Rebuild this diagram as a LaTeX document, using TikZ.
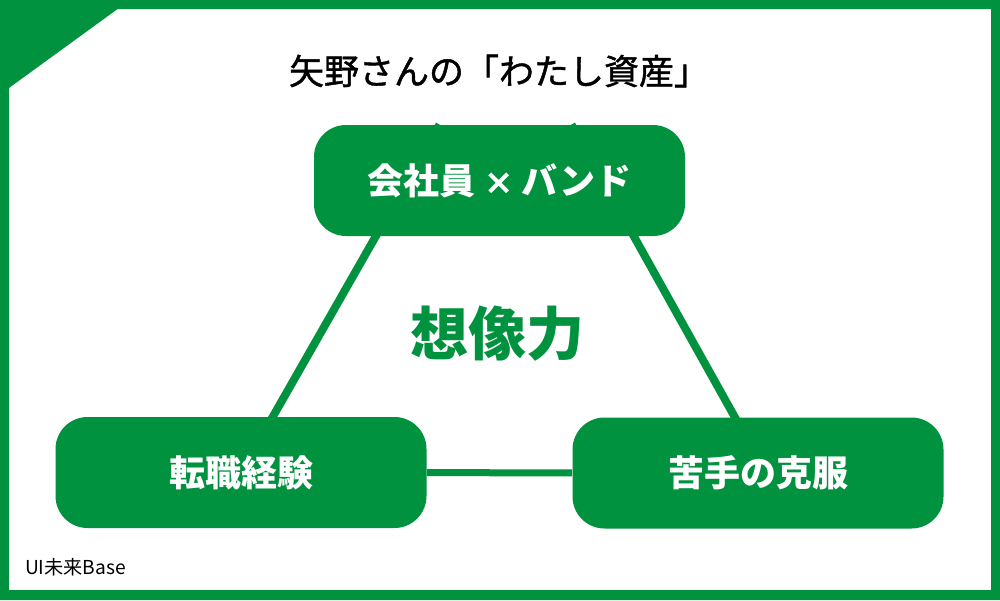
\documentclass[tikz,border=0pt]{standalone}
\usepackage{fontspec}
\newfontfamily\jpfont{Noto Sans CJK JP}
\newfontfamily\jpheavy{Noto Sans CJK JP}[FakeBold=1.2]
\usetikzlibrary{calc,positioning,backgrounds}
\definecolor{leaf}{RGB}{0,146,63}

\begin{document}
\begin{tikzpicture}[x=0.5pt,y=-0.5pt,
  asset/.style={fill=leaf, rounded corners=16pt, inner sep=0pt,
    minimum width=185.5pt, minimum height=55.5pt, text=white,
    font=\jpfont\bfseries\fontsize{18}{18}\selectfont},
  link/.style={draw=leaf, line width=4pt}]

\useasboundingbox (0,0) rectangle (1000,600);

\node[font=\jpheavy\fontsize{17.5}{17.5}\selectfont] (title) at (499,71) {矢野さんの「わたし資産」};

% the three assets
\node[asset] (band) at (499.5,180.5) {会社員 {\jpheavy\fontsize{15}{15}\selectfont ×} バンド};
\node[asset] (career) at (241,472.5) {転職経験};
\node[asset] (weak) at (758,473) {苦手の克服};

\node[text=leaf, font=\jpfont\bfseries\fontsize{29}{29}\selectfont] (core) at (497,334) {想像力};

\node[anchor=west, font=\jpfont\fontsize{9.6}{9.6}\selectfont] (brand) at (18,567) {UI未来Base};

\coordinate (bl) at ($(band.north)+(-60,0)$);
\coordinate (br) at ($(band.north)+(72,0)$);
\coordinate (wr) at ($(weak.center)+(8,0)$);

\begin{scope}[on background layer]
\fill[white] (0,0) rectangle (1000,600);
\fill[leaf, even odd rule] (0,0) rectangle (1000,600) (9,9) rectangle (991,590);
\fill[leaf] (0,0) -- (130,0) -- (0,94.5) -- cycle;

\draw[link] (career.center) to (bl);
\draw[link] (wr) to (br);
\draw[link, line width=3.5pt] (career) to (weak);
\end{scope}

\end{tikzpicture}
\end{document}
